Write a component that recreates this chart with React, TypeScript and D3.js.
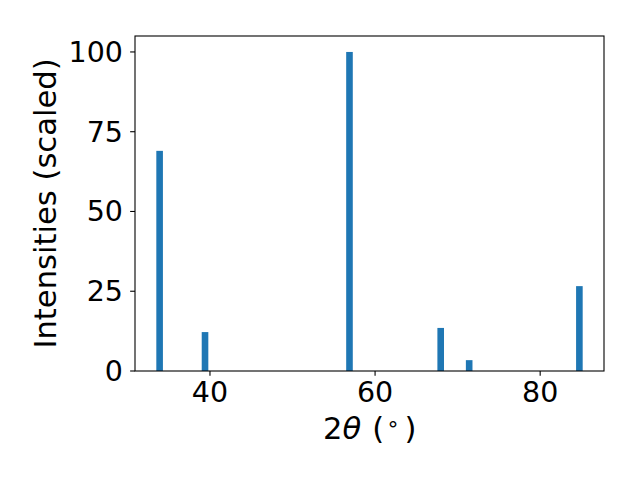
import React from "react";
import * as d3 from "d3";

const twoTheta: number[] = [33.9, 39.4, 56.9, 67.95, 71.4, 84.75];
const intensities: number[] = [69.0, 12.2, 100, 13.5, 3.4, 26.6];
const xTicks: number[] = [40, 60, 80];
const yTicks: number[] = [0, 25, 50, 75, 100];
const barWidth = 0.8;

const W = 640;
const H = 480;
const M = { left: 135, right: 604, top: 36, bottom: 371 };
const FONT = "'DejaVu Sans', sans-serif";
const FS = 28.5;
const LFS = 30.6;
const tickLen = 4.86;

export default function App() {
  const lo = d3.min(twoTheta)! - barWidth / 2;
  const hi = d3.max(twoTheta)! + barWidth / 2;
  const pad = (hi - lo) * 0.05;
  const x = d3.scaleLinear().domain([lo - pad, hi + pad]).range([M.left, M.right]);
  const y = d3.scaleLinear().domain([0, d3.max(intensities)! * 1.05]).range([M.bottom, M.top]);
  const bw = x(barWidth) - x(0);

  return (
    <svg width={W} height={H} style={{ position: "absolute", left: 0, top: 0, background: "#fff" }} fontFamily={FONT}>
      <rect x={0} y={0} width={W} height={H} fill="#fff" />
      {twoTheta.map((t, i) => (
        <rect
          key={i}
          x={x(t) - bw / 2}
          y={y(intensities[i])}
          width={bw}
          height={y(0) - y(intensities[i])}
          fill="#1f77b4"
        />
      ))}
      <rect
        x={M.left}
        y={M.top}
        width={M.right - M.left}
        height={M.bottom - M.top}
        fill="none"
        stroke="#000"
        strokeWidth={1.1}
      />
      {xTicks.map((t) => (
        <g key={"x" + t}>
          <line x1={x(t)} x2={x(t)} y1={M.bottom} y2={M.bottom + tickLen} stroke="#000" strokeWidth={1.1} />
          <text x={x(t)} y={402} textAnchor="middle" fontSize={FS} fill="#000">
            {t}
          </text>
        </g>
      ))}
      {yTicks.map((t) => (
        <g key={"y" + t}>
          <line x1={M.left - tickLen} x2={M.left} y1={y(t)} y2={y(t)} stroke="#000" strokeWidth={1.1} />
          <text x={123} y={y(t) + 10} textAnchor="end" fontSize={FS} fill="#000">
            {t}
          </text>
        </g>
      ))}
      <text x={323} y={439} textAnchor="start" fontSize={LFS} fill="#000">
        <tspan>2</tspan>
        <tspan fontStyle="italic">θ</tspan>
        <tspan dx={11}>(</tspan>
        <tspan dx={2} dy={-8} fontSize={LFS * 0.7}>∘</tspan>
        <tspan dx={5} dy={8}>)</tspan>
      </text>
      <text
        transform={`translate(56, ${(M.top + M.bottom) / 2}) rotate(-90)`}
        textAnchor="middle"
        fontSize={LFS}
        fill="#000"
      >
        Intensities (scaled)
      </text>
    </svg>
  );
}
